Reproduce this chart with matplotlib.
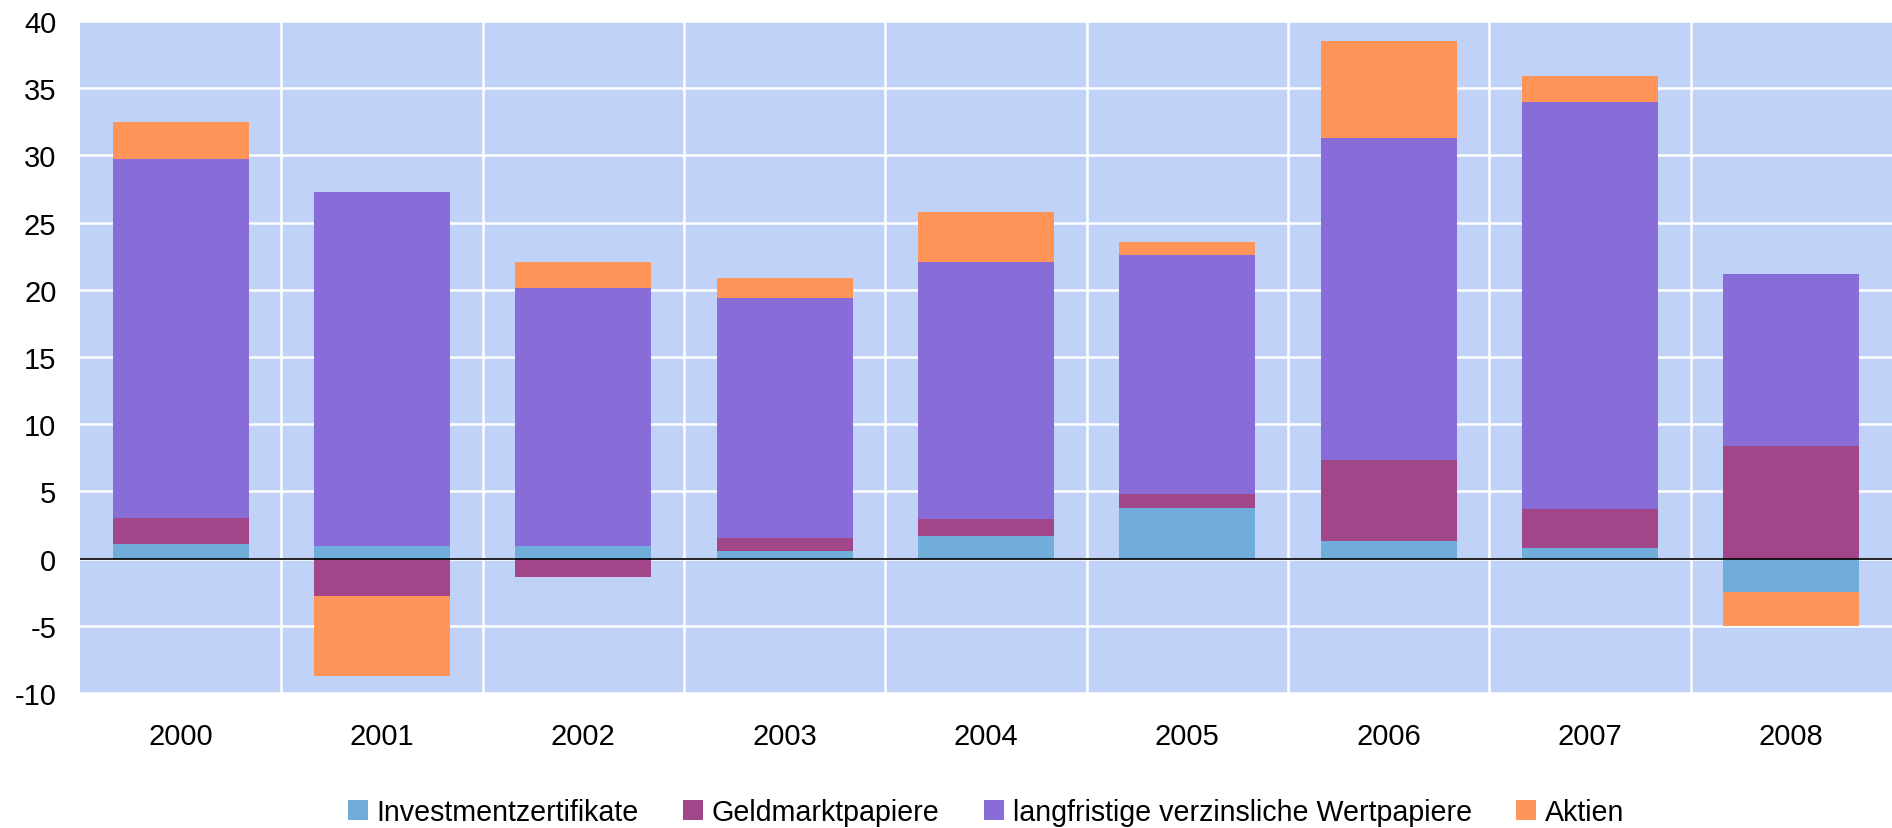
import numpy as np
import matplotlib
matplotlib.use("Agg")
import matplotlib.pyplot as plt

plt.rcParams['font.family'] = ['Liberation Sans', 'DejaVu Sans']

years = ["2000", "2001", "2002", "2003", "2004", "2005", "2006", "2007", "2008"]
series_names = ["Investmentzertifikate", "Geldmarktpapiere",
                "langfristige verzinsliche Wertpapiere", "Aktien"]
investment = [1.05, 0.95, 0.95, 0.6, 1.7, 3.75, 1.3, 0.77, -2.45]
geldmarkt = [1.95, -2.8, -1.4, 0.9, 1.28, 1.05, 6.0, 2.95, 8.4]
langfristig = [26.7, 26.35, 19.15, 17.9, 19.1, 17.78, 23.96, 30.28, 12.8]
aktien = [2.75, -5.95, 1.95, 1.5, 3.7, 0.94, 7.24, 1.9, -2.6]
colors = ["#70ADDA", "#A2468A", "#886CD8", "#FF9559"]
yticks = [-10, -5, 0, 5, 10, 15, 20, 25, 30, 35, 40]

fig = plt.figure(figsize=(18.92, 8.29), dpi=100)
ax = fig.add_axes([80/1892, 1 - 694/829, 1 - 80/1892, (694-22)/829])
ax.set_facecolor("#C0D2F8")

x = np.arange(len(years))
pos_base = np.zeros(len(years))
neg_base = np.zeros(len(years))
handles = []
for name, vals, c in zip(series_names, [investment, geldmarkt, langfristig, aktien], colors):
    v = np.array(vals, dtype=float)
    bottoms = np.where(v >= 0, pos_base, neg_base)
    h = ax.bar(x, v, width=0.676, bottom=bottoms, color=c, label=name, zorder=3, linewidth=0)
    handles.append(h)
    pos_base = pos_base + np.where(v >= 0, v, 0)
    neg_base = neg_base + np.where(v < 0, v, 0)

ax.set_xlim(-0.5, len(years) - 0.5)
ax.set_ylim(-10, 40)
ax.set_yticks(yticks)
ax.set_yticklabels([str(t) for t in yticks])
ax.set_xticks(x)
ax.set_xticklabels(years)
ax.set_xticks(np.arange(0.5, len(years) - 0.5, 1), minor=True)
ax.grid(True, axis='y', which='major', color='white', linewidth=1.8, zorder=1)
ax.grid(True, axis='x', which='minor', color='white', linewidth=1.8, zorder=1)
ax.grid(False, axis='x', which='major')
ax.axhline(0, color='black', linewidth=1.2, zorder=4)
for s in ax.spines.values():
    s.set_visible(False)
ax.tick_params(axis='both', which='both', length=0, labelsize=21, colors='black')
ax.tick_params(axis='y', pad=17)
ax.tick_params(axis='x', pad=21)

leg = fig.legend(handles=handles, labels=series_names, loc='center',
                 bbox_to_anchor=(986/1892, 1 - 813/829), ncol=4, frameon=False,
                 fontsize=20.6, handlelength=0.7, handleheight=0.7,
                 handletextpad=0.3, columnspacing=1.55, borderaxespad=0)

fig.savefig("out.png", dpi=100, facecolor="white")
